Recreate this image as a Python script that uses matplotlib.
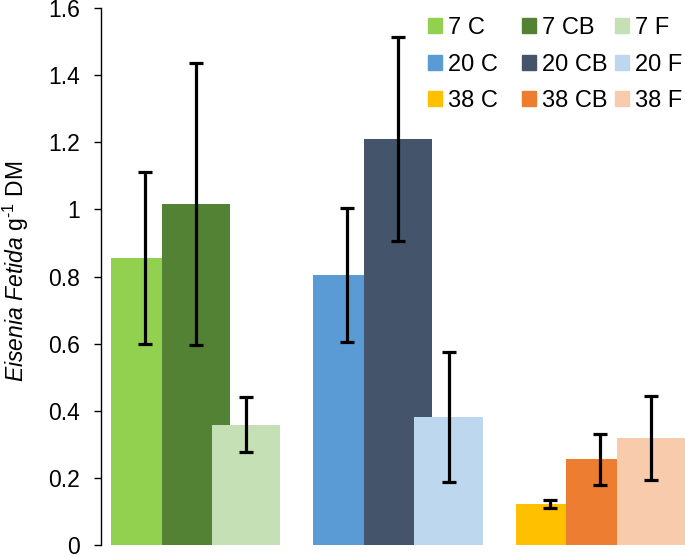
import matplotlib.pyplot as plt
from matplotlib.patches import Patch

plt.rcParams['font.family'] = ['Liberation Sans', 'DejaVu Sans']
plt.rcParams['mathtext.fontset'] = 'custom'
plt.rcParams['mathtext.rm'] = 'Liberation Sans'
plt.rcParams['mathtext.it'] = 'Liberation Sans:italic'

temps = ['7', '20', '38']
treatments = ['C', 'CB', 'F']
means = [[0.855, 1.015, 0.358],
         [0.805, 1.21, 0.381],
         [0.122, 0.255, 0.32]]
errors = [[0.255, 0.42, 0.082],
          [0.2, 0.305, 0.193],
          [0.013, 0.075, 0.125]]
colors = [['#92d050', '#548235', '#c5e0b4'],
          ['#5b9bd5', '#44546a', '#bdd7ee'],
          ['#ffc000', '#ed7d31', '#f8cbad']]
yticks = [0, 0.2, 0.4, 0.6, 0.8, 1, 1.2, 1.4, 1.6]
ytick_labels = ['0', '0.2', '0.4', '0.6', '0.8', '1', '1.2', '1.4', '1.6']

fig = plt.figure(figsize=(6.85, 5.57), dpi=100)
ax = fig.add_axes([101 / 685, 12 / 557, 1 - 101 / 685, 537 / 557])

width = 1.35
for g in range(3):
    for k in range(3):
        x = 4 * g + k - 1
        ax.bar(x, means[g][k], width=width, color=colors[g][k], zorder=2)
for g in range(3):
    for k in range(3):
        x = 4 * g + k - 1
        ax.errorbar(x, means[g][k], yerr=errors[g][k], fmt='none', ecolor='black',
                    elinewidth=2.3, capsize=5.3, capthick=2.3, zorder=3)

ax.set_xlim(-1 - width / 2 - 10 / 50.5, 9 + width / 2)
ax.set_ylim(0, 1.6)
ax.set_yticks(yticks)
ax.set_yticklabels(ytick_labels)
ax.set_xticks([])
for s in ['top', 'right', 'bottom']:
    ax.spines[s].set_visible(False)
ax.spines['left'].set_linewidth(1.0)
ax.tick_params(axis='y', labelsize=16.5, length=5, width=1.0, pad=10)
ax.set_ylabel(r'$\it{Eisenia\ Fetida}$ g$^{\text{-1}}$ DM', fontsize=16.5)
ax.yaxis.set_label_coords(-0.12, 0.51)

# one legend per column so the columns sit where they do in the reference
col_x = [428, 522, 615]
for k in range(3):
    hs = [Patch(color=colors[g][k], label=f'{temps[g]} {treatments[k]}') for g in range(3)]
    leg = fig.legend(handles=hs, loc='upper left', bbox_to_anchor=(col_x[k] / 685, 1 - 17 / 557),
                     frameon=False, fontsize=17, borderpad=0, borderaxespad=0,
                     handlelength=0.6, handleheight=0.6, handletextpad=0.25, labelspacing=0.62)

fig.savefig('out.png', dpi=100)
